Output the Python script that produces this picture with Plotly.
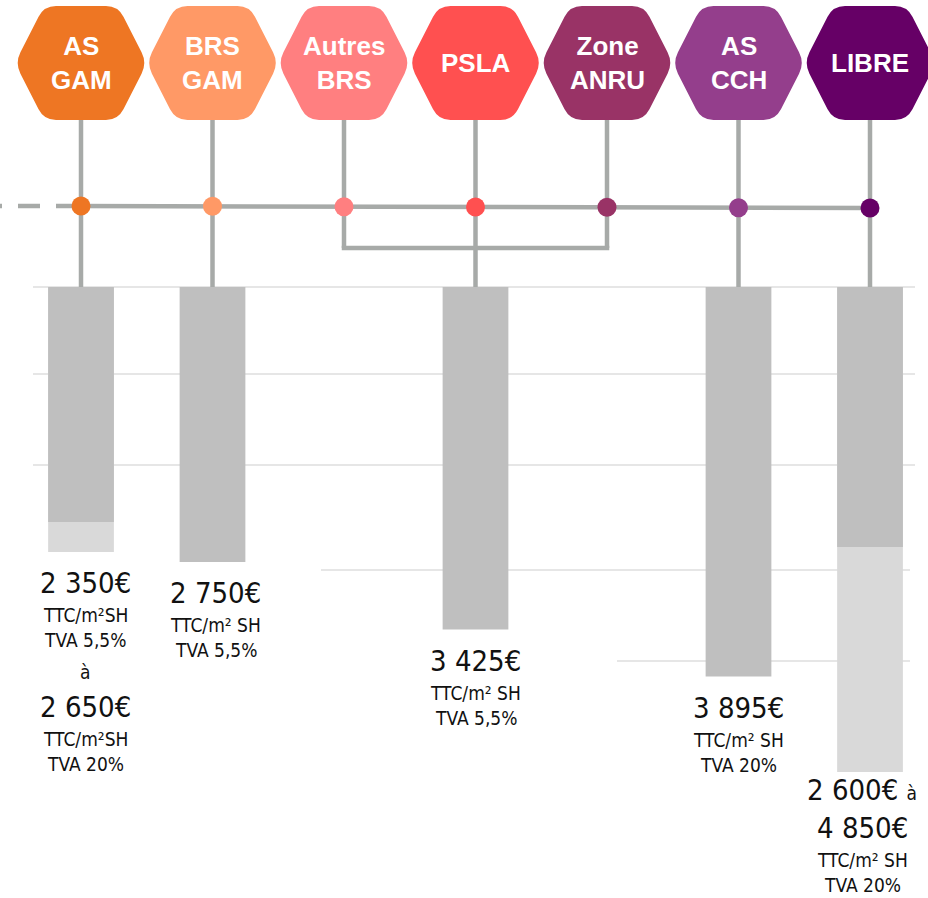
import math
import plotly.graph_objects as go

# ---- data -------------------------------------------------------------
categories = ["AS<br>GAM", "BRS<br>GAM", "Autres<br>BRS", "PSLA",
              "Zone<br>ANRU", "AS<br>CCH", "LIBRE"]
category_colors = ["#EE7623", "#FF9966", "#FF7F80", "#FF5050",
                   "#993366", "#943E8C", "#660066"]

# price per m² (TTC/m² SH), one bar per product (index into categories)
bar_index = [0, 1, 3, 5, 6]
price_low = [2350, 2750, 3425, 3895, 2600]
# upper end of the price range where a range is given
range_index = [0, 6]
price_high = [2650, 4850]

# label lines under each bar: (text, kind)
label_lines = {
    0: [("2 350€", "big"), ("TTC/m²SH", "small"), ("TVA 5,5%", "small"),
        ("à", "small"), ("2 650€", "big"), ("TTC/m²SH", "small"),
        ("TVA 20%", "small")],
    1: [("2 750€", "big"), ("TTC/m² SH", "small"), ("TVA 5,5%", "small")],
    3: [("3 425€", "big"), ("TTC/m² SH", "small"), ("TVA 5,5%", "small")],
    5: [("3 895€", "big"), ("TTC/m² SH", "small"), ("TVA 20%", "small")],
    6: [("2 600€ à", "big"), ("4 850€", "big"), ("TTC/m² SH", "small"),
        ("TVA 20%", "small")],
}

# ---- layout constants (pixels) ---------------------------------------
W, H = 928, 898
X0, DX = 81.0, 131.5          # pixel centre of first category, spacing
BAR_TOP = 287                  # pixel where bars start (value 0)
PX_PER_EUR = 0.1
HEX_CY = 63
LINE_Y0, LINE_Y1 = 206, 208
LINK_Y = 248
GREY = "#A7AAA8"
LW = 4.5


def px(i):
    return X0 + DX * i


fig = go.Figure()

# bars: light (upper end of range) underneath, dark (base price) on top
fig.add_trace(go.Bar(x=range_index, y=price_high, base=0, width=0.5,
                     marker=dict(color="#D9D9D9", line=dict(width=0)),
                     hoverinfo="skip"))
fig.add_trace(go.Bar(x=bar_index, y=price_low, base=0, width=0.5,
                     marker=dict(color="#BFBFBF", line=dict(width=0)),
                     hoverinfo="skip"))

# coloured nodes on the timeline
fig.add_trace(go.Scatter(
    x=[px(i) for i in range(len(categories))],
    y=[LINE_Y0 + (LINE_Y1 - LINE_Y0) * i / (len(categories) - 1)
       for i in range(len(categories))],
    xaxis="x2", yaxis="y2", mode="markers",
    marker=dict(size=19, color=category_colors, line=dict(width=0)),
    hoverinfo="skip"))

shapes = []

# light horizontal guide lines
for y, xa, xb in [(287, 33, 915), (374, 33, 915), (465, 33, 915),
                  (570, 321, 910), (661, 617, 910)]:
    shapes.append(dict(type="line", xref="x2", yref="y2", x0=xa, x1=xb,
                       y0=y, y1=y, layer="below",
                       line=dict(color="#DEDEDE", width=1.5)))

# timeline: dashed lead-in then solid
shapes.append(dict(type="line", xref="x2", yref="y2", x0=-20, x1=78,
                   y0=LINE_Y0, y1=LINE_Y0, layer="below",
                   line=dict(color=GREY, width=LW, dash="22px,16px")))
shapes.append(dict(type="line", xref="x2", yref="y2", x0=76, x1=px(6),
                   y0=LINE_Y0, y1=LINE_Y1, layer="below",
                   line=dict(color=GREY, width=LW)))

# stems from each hexagon
for i in range(len(categories)):
    bottom = LINK_Y if i in (2, 4) else BAR_TOP
    shapes.append(dict(type="line", xref="x2", yref="y2", x0=px(i),
                       x1=px(i), y0=110, y1=bottom, layer="below",
                       line=dict(color=GREY, width=LW)))
# junction joining Autres BRS / PSLA / Zone ANRU
shapes.append(dict(type="line", xref="x2", yref="y2", x0=px(2) - LW / 2,
                   x1=px(4) + LW / 2, y0=LINK_Y, y1=LINK_Y, layer="below",
                   line=dict(color=GREY, width=LW)))


def hex_path(cx, cy, hw=66, tw=37, hh=57, r=12):
    pts = [(cx - hw, cy), (cx - tw, cy - hh), (cx + tw, cy - hh),
           (cx + hw, cy), (cx + tw, cy + hh), (cx - tw, cy + hh)]
    path = ""
    n = len(pts)
    for k in range(n):
        p = pts[k]
        pp = pts[k - 1]
        pn = pts[(k + 1) % n]
        dp = math.hypot(pp[0] - p[0], pp[1] - p[1])
        dn = math.hypot(pn[0] - p[0], pn[1] - p[1])
        a = (p[0] + (pp[0] - p[0]) * r / dp, p[1] + (pp[1] - p[1]) * r / dp)
        b = (p[0] + (pn[0] - p[0]) * r / dn, p[1] + (pn[1] - p[1]) * r / dn)
        path += ("M" if k == 0 else "L") + f"{a[0]:.2f},{a[1]:.2f} "
        path += f"Q{p[0]:.2f},{p[1]:.2f} {b[0]:.2f},{b[1]:.2f} "
    return path + "Z"


for i, col in enumerate(category_colors):
    shapes.append(dict(type="path", xref="x2", yref="y2",
                       path=hex_path(px(i), HEX_CY), fillcolor=col,
                       line=dict(width=0), layer="above"))

annotations = []
for i, name in enumerate(categories):
    annotations.append(dict(
        x=px(i), y=HEX_CY, xref="x2", yref="y2", text=f"<b>{name}</b>",
        showarrow=False, xanchor="center", yanchor="middle",
        font=dict(family="Liberation Sans, Arial, sans-serif", size=26,
                  color="white")))

# price labels hung below the end of each bar
LABEL_FONT = "DejaVu Sans Condensed, DejaVu Sans, sans-serif"
sizes = {"big": 29, "small": 19}
step = {("big", "small"): 32, ("small", "small"): 25, ("big", "big"): 38}
ends = {i: v for i, v in zip(bar_index, price_low)}
for i, v in zip(range_index, price_high):
    ends[i] = max(ends[i], v)
first_gap = {6: 18}
x_shift = {0: 4, 1: 3, 6: -8}

for i, lines in label_lines.items():
    off = first_gap.get(i, 31)
    prev = None
    for text, kind in lines:
        if prev is not None:
            if prev[0] == "à":
                off += 35
            elif text == "à":
                off += 32
            else:
                off += step[(prev[1], kind)]
        shown = text
        if text.endswith(" à"):
            shown = text[:-2] + " <span style='font-size:19px'>à</span>"
        annotations.append(dict(
            x=i, y=ends[i], xref="x", yref="y", text=shown, showarrow=False,
            xanchor="center", yanchor="middle", yshift=-off,
            xshift=x_shift.get(i, 0),
            font=dict(family=LABEL_FONT, size=sizes[kind], color="#111111")))
        prev = (text, kind)

x_lo = (0 - X0) / DX
x_hi = (W - X0) / DX
y_lo = (0 - BAR_TOP) / PX_PER_EUR
y_hi = (H - BAR_TOP) / PX_PER_EUR

axis_off = dict(showgrid=False, zeroline=False, showticklabels=False,
                ticks="", showline=False)
fig.update_layout(
    width=W, height=H, margin=dict(l=0, r=0, t=0, b=0),
    paper_bgcolor="white", plot_bgcolor="white",
    barmode="overlay", showlegend=False,
    xaxis=dict(range=[x_lo, x_hi], domain=[0, 1], **axis_off),
    yaxis=dict(range=[y_hi, y_lo], domain=[0, 1], **axis_off),
    xaxis2=dict(range=[0, W], overlaying="x", **axis_off),
    yaxis2=dict(range=[H, 0], overlaying="y", **axis_off),
    shapes=shapes, annotations=annotations,
)

fig.write_html("out.html")
